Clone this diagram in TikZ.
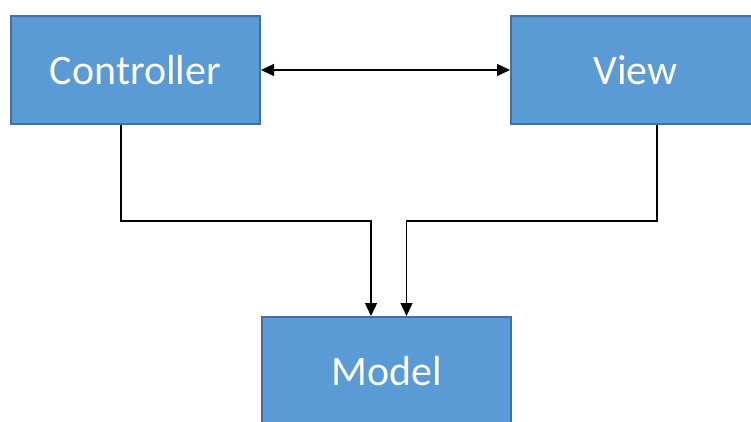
\documentclass[tikz,border=0pt]{standalone}
\usepackage{fontspec}
\setmainfont{Carlito}
\usetikzlibrary{arrows.meta}

\definecolor{boxfill}{HTML}{5B9BD5}
\definecolor{boxline}{HTML}{41719C}

\begin{document}
\begin{tikzpicture}[x=1pt,y=1pt,>={Triangle[length=13pt,width=12pt]},
  box/.style={draw=boxline,line width=2pt,fill=boxfill,text=white,
    minimum width=249pt,minimum height=108pt,inner sep=0pt,
    font=\fontsize{42}{50}\selectfont}]
  \useasboundingbox (0,0) rectangle (751,421);
  \clip (0,0) rectangle (751,421);
  % the three parts
  \node[box] (ctrl) at (135.5,351) {Controller};
  \node[box] (view) at (635.5,351) {View};
  \node[box] (model) at (386.5,50) {Model};
  % connectors
  \draw[<->,line width=1.3pt] (ctrl.east) -- (view.west);
  \draw[->,line width=1.3pt] ([xshift=-14.5pt]ctrl.south) -- ++(0,-96)
    -| ([xshift=-15.5pt]model.north);
  \draw[->,line width=1.3pt] ([xshift=21.5pt]view.south) -- ++(0,-96)
    -| ([xshift=20pt]model.north);
\end{tikzpicture}
\end{document}
